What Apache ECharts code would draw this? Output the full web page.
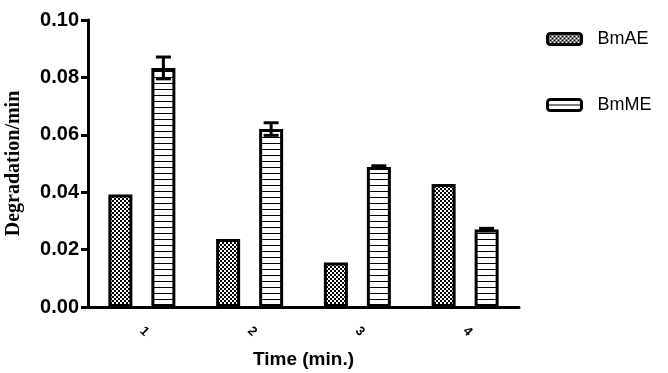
<!DOCTYPE html>
<html><head><meta charset="utf-8">
<script src="https://cdn.jsdelivr.net/npm/echarts@6/dist/echarts.min.js"></script>
<style>html,body{margin:0;padding:0;background:#fff}#c{width:668px;height:373px}</style>
</head><body><div id="c"></div>
<script>
const categories = ['1', '2', '3', '4'];
const bmAE = [0.0392, 0.0237, 0.0155, 0.0429];
const bmME = [0.0833, 0.0620, 0.0488, 0.0270];
const bmMEerr = [0.0038, 0.0022, 0.0004, 0.0004];
const yTicks = [0, 0.02, 0.04, 0.06, 0.08, 0.10];

function checker() {
  const c = document.createElement('canvas'); c.width = 4; c.height = 4;
  const g = c.getContext('2d'); g.fillStyle = '#fff'; g.fillRect(0,0,4,4);
  g.fillStyle = '#000'; g.fillRect(0,0,2,2); g.fillRect(2,2,2,2);
  return c;
}
function hlines() {
  const c = document.createElement('canvas'); c.width = 4; c.height = 6;
  const g = c.getContext('2d'); g.fillStyle = '#fff'; g.fillRect(0,0,4,6);
  g.fillStyle = '#000'; g.fillRect(0,5,4,1);
  return c;
}
const pA = {image: checker(), repeat: 'repeat'};
const pM = {image: hlines(), repeat: 'repeat'};

const chart = echarts.init(document.getElementById('c'));
const BW = 24, GAP = 19;
const gapPct = (GAP/BW*100) + '%';
chart.setOption({
  animation: false,
  grid: {left: 88, top: 20, width: 431, height: 287, containLabel: false, outerBoundsMode: 'none'},
  legend: {
    orient: 'vertical', left: 546, top: 30, padding: 0, itemWidth: 34, itemHeight: 11, itemGap: 48,
    textStyle: {fontFamily: 'Liberation Sans', fontSize: 18, color: '#000', padding: [0,0,0,11]},
    data: [{name: 'BmAE', itemStyle: {color: pA, borderColor: '#000', borderWidth: 3}},
           {name: 'BmME', itemStyle: {color: pM, borderColor: '#000', borderWidth: 3}}]
  },
  xAxis: {
    type: 'category', data: categories,
    name: 'Time (min.)', nameLocation: 'middle', nameGap: 43,
    nameTextStyle: {fontFamily: 'Liberation Sans', fontWeight: 'bold', fontSize: 19, color: '#000'},
    axisLine: {lineStyle: {color: '#000', width: 3}},
    axisTick: {alignWithLabel: true, length: 8, lineStyle: {color: '#000', width: 2}},
    axisLabel: {rotate: -45, margin: 22, fontFamily: 'Liberation Sans', fontWeight: 'bold', fontSize: 13, color: '#000'}
  },
  yAxis: {
    type: 'value', min: 0, max: 0.10, interval: 0.02,
    name: 'Degradation/min', nameLocation: 'middle', nameGap: 64,
    nameTextStyle: {fontFamily: 'Liberation Serif', fontWeight: 'bold', fontSize: 20, color: '#000'},
    axisLine: {show: true, lineStyle: {color: '#000', width: 3}},
    axisTick: {show: true, length: 7, lineStyle: {color: '#000', width: 3}},
    splitLine: {show: false},
    axisLabel: {margin: 9, fontFamily: 'Liberation Sans', fontWeight: 'bold', fontSize: 20, color: '#000',
      formatter: v => v.toFixed(2)}
  },
  series: [
    {name: 'BmAE', type: 'bar', data: bmAE, barWidth: BW, barGap: gapPct,
     itemStyle: {color: pA, borderColor: '#000', borderWidth: 3}},
    {name: 'BmME', type: 'bar', data: bmME, barWidth: BW, barGap: gapPct,
     itemStyle: {color: pM, borderColor: '#000', borderWidth: 3}},
    {name: 'err', type: 'custom', data: bmME.map((v,i)=>[i, v, bmMEerr[i]]), z: 10,
     renderItem: function(params, api) {
       const i = api.value(0), v = api.value(1), e = api.value(2);
       const top = api.coord([i, v + e]), bot = api.coord([i, v - e]);
       const x = top[0] + (BW + GAP) / 2;
       const hw = 7.5;
       const st = {stroke: '#000', lineWidth: 3};
       return {type: 'group', children: [
         {type: 'line', shape: {x1: x, y1: top[1], x2: x, y2: bot[1]}, style: st},
         {type: 'line', shape: {x1: x-hw, y1: top[1], x2: x+hw, y2: top[1]}, style: st},
         {type: 'line', shape: {x1: x-hw, y1: bot[1], x2: x+hw, y2: bot[1]}, style: st}
       ]};
     }}
  ]
});
</script></body></html>
